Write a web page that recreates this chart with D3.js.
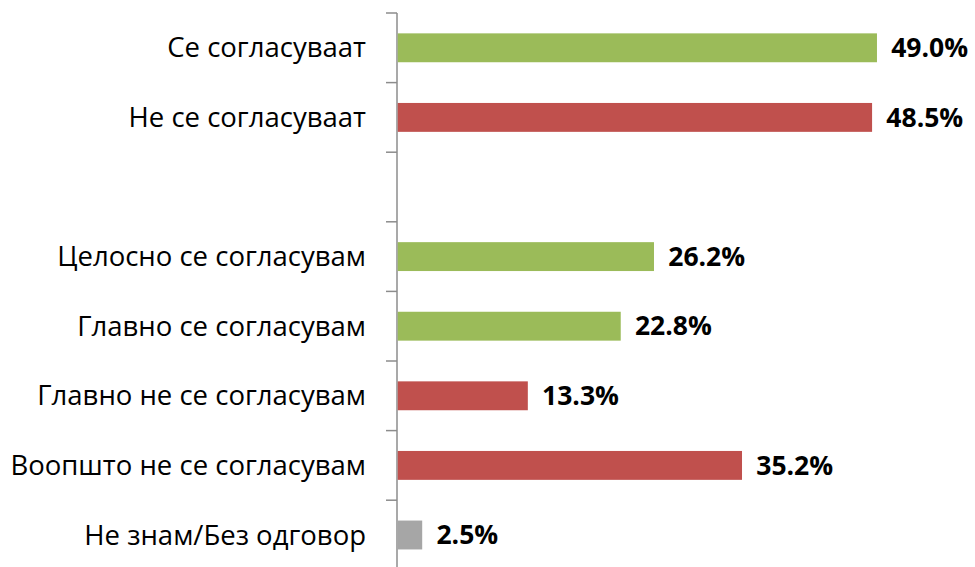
<!DOCTYPE html>
<html>
<head>
<meta charset="utf-8">
<script src="https://cdn.jsdelivr.net/npm/d3@7"></script>
<style>
  body { margin: 0; background: #fff; }
</style>
</head>
<body>
<div id="chart"></div>
<script>
// data
var categories = [
  "Се согласуваат",
  "Не се согласуваат",
  "",
  "Целосно се согласувам",
  "Главно се согласувам",
  "Главно не се согласувам",
  "Воопшто не се согласувам",
  "Не знам/Без одговор"
];
var values = [49.0, 48.5, null, 26.2, 22.8, 13.3, 35.2, 2.5];
var groups = ["agree", "disagree", "none", "agree", "agree", "disagree", "disagree", "unknown"];

var colors = {agree: "#9BBB59", disagree: "#C0504D", unknown: "#A6A6A6"};

var width = 975, height = 567;
var axisX = 397, marginTop = 13, step = 69.6;

var svg = d3.select("#chart")
  .append("svg")
    .attr("width", width)
    .attr("height", height);

var data = categories.map(function(c, i) {
  return {key: "c" + i, label: c, value: values[i], group: groups[i]};
});

// Y band scale, one slot per category
var y = d3.scaleBand()
  .domain(data.map(function(d) { return d.key; }))
  .range([marginTop, marginTop + step * categories.length])
  .padding(0);

// X linear scale
var x = d3.scaleLinear()
  .domain([0, 50])
  .range([axisX, axisX + 489]);

var barH = y.bandwidth() * 0.415;

// axis line + ticks at slot boundaries
svg.append("line")
  .attr("x1", axisX).attr("x2", axisX)
  .attr("y1", marginTop).attr("y2", height)
  .attr("stroke", "#8C8C8C")
  .attr("stroke-width", 1.5);

svg.selectAll(".tick")
  .data(data)
  .enter()
  .append("line")
  .attr("x1", axisX - 11).attr("x2", axisX)
  .attr("y1", function(d) { return y(d.key); })
  .attr("y2", function(d) { return y(d.key); })
  .attr("stroke", "#8C8C8C")
  .attr("stroke-width", 1.5);

var rows = data.filter(function(d) { return d.value != null; });

// bars
svg.selectAll(".bar")
  .data(rows)
  .enter()
  .append("rect")
  .attr("x", x(0) + 0.75)
  .attr("y", function(d) { return y(d.key) + y.bandwidth() / 2 - barH / 2; })
  .attr("width", function(d) { return x(d.value) - x(0); })
  .attr("height", barH)
  .attr("fill", function(d) { return colors[d.group]; });

// category labels
svg.selectAll(".label")
  .data(rows)
  .enter()
  .append("text")
  .attr("x", axisX - 31)
  .attr("y", function(d) { return y(d.key) + y.bandwidth() / 2; })
  .attr("dy", "0.35em")
  .attr("text-anchor", "end")
  .style("font-family", "'Open Sans', 'Noto Sans', sans-serif")
  .style("font-size", "27.5px")
  .style("fill", "#000")
  .text(function(d) { return d.label; });

// value labels
svg.selectAll(".value")
  .data(rows)
  .enter()
  .append("text")
  .attr("x", function(d) { return x(d.value) + 15; })
  .attr("y", function(d) { return y(d.key) + y.bandwidth() / 2; })
  .attr("dy", "0.35em")
  .style("font-family", "'Open Sans', 'Noto Sans', sans-serif")
  .style("font-weight", "bold")
  .style("font-size", "26.5px")
  .style("fill", "#000")
  .text(function(d) { return d.value.toFixed(1) + "%"; });
</script>
</body>
</html>
